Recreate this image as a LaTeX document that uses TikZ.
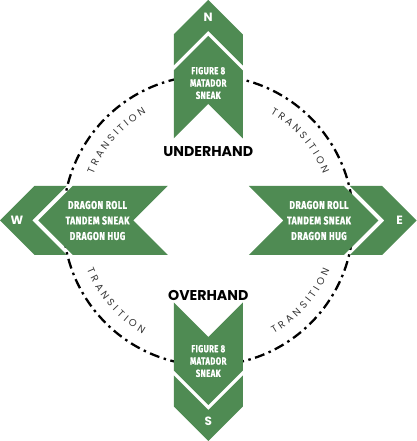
\documentclass[tikz,border=0pt]{standalone}
\usepackage{fontspec}
\setmainfont{Poppins}
\newfontfamily\condfont[FakeStretch=0.76, FakeBold=1.3, LetterSpace=4]{Fira Sans}
\newfontfamily\geofont{Poppins}
\usetikzlibrary{decorations.text}
\definecolor{arrowgreen}{RGB}{79,139,83}
\definecolor{transgray}{RGB}{55,55,55}
\newcommand\chevpiece[4]{%
  \fill[piece, shift={(208.25,220.5)}, rotate=#1]
    (0,#2) -- ++(#4,-#4) -- ++(0,-#3) -- ++(-#4,#4) -- ++(-#4,-#4) -- ++(0,#3) -- cycle;}
\begin{document}
\begin{tikzpicture}[x=1pt,y=1pt,
  piece/.style={fill=arrowgreen},
  ringline/.style={draw=black, line width=2.3pt, dash pattern=on 10pt off 4.5pt on 2.5pt off 4.5pt},
  dirlabel/.style={text=white, font=\geofont\bfseries\fontsize{12}{12}\selectfont, inner sep=0},
  movelist/.style={text=white, align=center, inner sep=0, font=\condfont\bfseries\fontsize{11.3}{15.5}\selectfont},
  vmovelist/.style={text=white, align=center, inner sep=0, font=\condfont\bfseries\fontsize{10.2}{12.3}\selectfont},
  gripname/.style={text=black, font=\geofont\bfseries\fontsize{14.2}{14}\selectfont, inner sep=0},
  transtext/.style={decorate, decoration={text along path, text align=fit to path, text color=transgray,
     text={|\geofont\fontsize{10}{10}\selectfont|TRANSITION}}}
]
\useasboundingbox (0,0) rectangle (416,441);
\coordinate (c) at (208.25,220.5);
% ring
\draw[ringline] (c) circle[radius=145];
% chevrons
\chevpiece{0}{220.5}{31}{34.5}
\chevpiece{0}{184.5}{68}{34.5}
\chevpiece{180}{220.5}{31}{34.5}
\chevpiece{180}{184.5}{68}{34.5}
\chevpiece{90}{208.25}{32.25}{34.5}
\chevpiece{90}{170}{95}{34.5}
\chevpiece{-90}{208.25}{32.25}{34.5}
\chevpiece{-90}{170}{95}{34.5}
% labels
\node[dirlabel] (nl) at (208.25,423.7) {N};
\node[dirlabel] (sl) at (208.25,19.3) {S};
\node[dirlabel] (wl) at (17,220.5) {W};
\node[dirlabel] (el) at (399.5,220.5) {E};
\node[vmovelist] (nmoves) at (208.25,358) {FIGURE 8\\MATADOR\\SNEAK};
\node[vmovelist] (smoves) at (208.25,80) {FIGURE 8\\MATADOR\\SNEAK};
\node[movelist] (wmoves) at (97.5,220.5) {DRAGON ROLL\\TANDEM SNEAK\\DRAGON HUG};
\node[movelist] (emoves) at (319,220.5) {DRAGON ROLL\\TANDEM SNEAK\\DRAGON HUG};
\node[gripname] (under) at (208.25,289.5) {UNDERHAND};
\node[gripname] (over) at (208.25,146) {OVERHAND};
% transition texts
\path[transtext, shift={(208.25,220.5)}] (158:124) arc[start angle=158, end angle=120, radius=124];
\path[transtext, shift={(208.25,220.5)}] (60:124) arc[start angle=60, end angle=22, radius=124];
\path[transtext, shift={(208.25,220.5)}] (202:131) arc[start angle=202, end angle=240, radius=131];
\path[transtext, shift={(208.25,220.5)}] (300:131) arc[start angle=300, end angle=338, radius=131];
\end{tikzpicture}
\end{document}
